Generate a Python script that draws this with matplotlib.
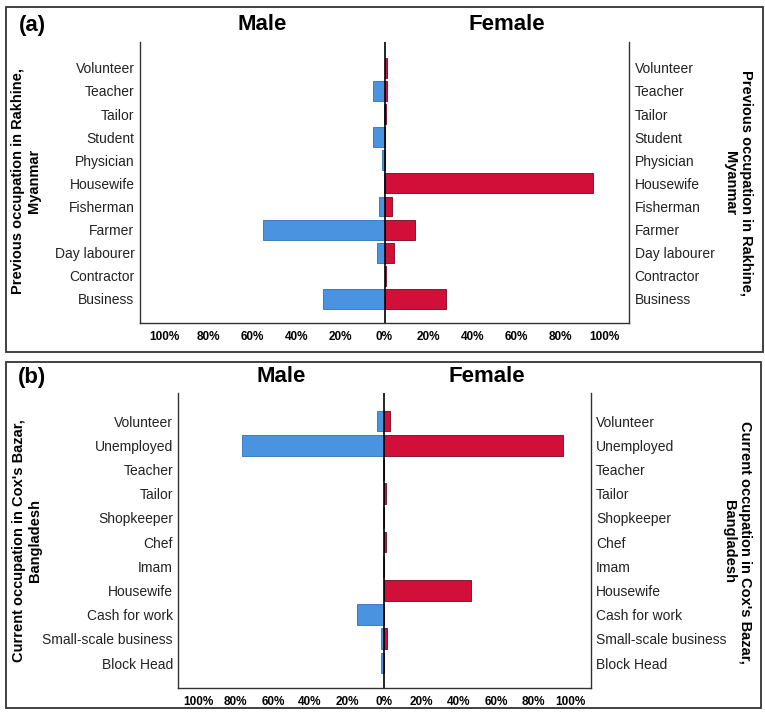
import matplotlib
matplotlib.use("Agg")
import matplotlib.pyplot as plt
import numpy as np
from matplotlib.patches import Rectangle

plt.rcParams["font.family"] = ["Liberation Sans", "DejaVu Sans"]

# Panel (a): previous occupation in Rakhine, Myanmar (bottom -> top)
prev_jobs = ["Business", "Contractor", "Day labourer", "Farmer", "Fisherman",
             "Housewife", "Physician", "Student", "Tailor", "Teacher", "Volunteer"]
prev_male = [27.7, 0, 3.6, 55, 2.7, 0.3, 1.0, 5.0, 0.3, 5.0, 0]
prev_female = [28, 0.8, 4.2, 14, 3.2, 94.5, 0, 0, 0.9, 1.0, 1.0]

# Panel (b): current occupation in Cox's Bazar, Bangladesh (bottom -> top)
curr_jobs = ["Block Head", "Small-scale business", "Cash for work", "Housewife",
             "Imam", "Chef", "Shopkeeper", "Tailor", "Teacher", "Unemployed", "Volunteer"]
curr_male = [1.7, 1.7, 14.6, 0, 0.6, 0, 0.6, 0, 0.6, 76.8, 3.8]
curr_female = [0, 1.5, 0, 46.5, 0, 0.8, 0, 0.9, 0, 95.7, 3.2]

xticks = [-100, -80, -60, -40, -20, 0, 20, 40, 60, 80, 100]

BLUE = "#4A93E0"
BLUE_EDGE = "#2F6FB8"
RED = "#D20F38"
RED_EDGE = "#6E0A1E"

W, H = 765, 720
fig = plt.figure(figsize=(W / 100, H / 100), dpi=100)
fig.patch.set_facecolor("white")


def px_axes(left, right, top, bottom):
    return fig.add_axes([left / W, 1 - bottom / H, (right - left) / W, (bottom - top) / H])


def draw_panel(ax, jobs, male, female, ylim, pad):
    y = np.arange(len(jobs))
    ax.barh(y, -np.array(male), height=0.86, color=BLUE, edgecolor=BLUE_EDGE, linewidth=0.6)
    ax.barh(y, female, height=0.86, color=RED, edgecolor=RED_EDGE, linewidth=0.6)
    ax.axvline(0, color="black", linewidth=1.2)
    ax.set_xlim(-111, 111)
    ax.set_ylim(*ylim)
    ax.set_yticks(y)
    ax.set_yticklabels(jobs, fontsize=10)
    ax.tick_params(axis="y", length=0, pad=pad, labelright=True, labelcolor="#222222")
    ax.set_xticks(xticks)
    ax.set_xticklabels([f"{abs(v)}%" for v in xticks], fontsize=8.5, fontweight="bold")
    ax.tick_params(axis="x", length=0, pad=5.5)
    ax.spines["top"].set_visible(False)
    for s in ("left", "right", "bottom"):
        ax.spines[s].set_linewidth(1.0)
        ax.spines[s].set_color("#333333")


ax_a = px_axes(140, 629, 42, 323)
draw_panel(ax_a, prev_jobs, prev_male, prev_female, (-1.04, 11.12), 4)
ax_b = px_axes(178, 591, 393, 688)
draw_panel(ax_b, curr_jobs, curr_male, curr_female, (-1.03, 11.16), 3.6)

# panel frames
for (x0, y0, x1, y1) in [(6, 7, 763, 352), (6, 362, 761, 708)]:
    fig.add_artist(Rectangle((x0 / W, 1 - y1 / H), (x1 - x0) / W, (y1 - y0) / H,
                             transform=fig.transFigure, fill=False,
                             edgecolor="#333333", linewidth=1.3))


def ftext(x, y, s, **kw):
    fig.text(x / W, 1 - y / H, s, **kw)


title_kw = dict(fontsize=16, fontweight="bold", ha="center", va="center")
ftext(32, 25, "(a)", **title_kw)
ftext(262, 25, "Male", **title_kw)
ftext(507, 25, "Female", **title_kw)
ftext(32, 377, "(b)", **title_kw)
ftext(281, 377, "Male", **title_kw)
ftext(487, 377, "Female", **title_kw)

lab_kw = dict(fontsize=10.5, fontweight="bold", ha="center", va="center", multialignment="center")
prev_lab = "Previous occupation in Rakhine,\nMyanmar"
curr_lab = "Current occupation in Cox's Bazar,\nBangladesh"
ftext(26, 181, prev_lab, rotation=90, **lab_kw)
ftext(738, 183, prev_lab, rotation=270, **lab_kw)
ftext(27, 541, curr_lab, rotation=90, **lab_kw)
ftext(737, 542, curr_lab, rotation=270, **lab_kw)

fig.savefig("out.png", dpi=100, facecolor="white")
